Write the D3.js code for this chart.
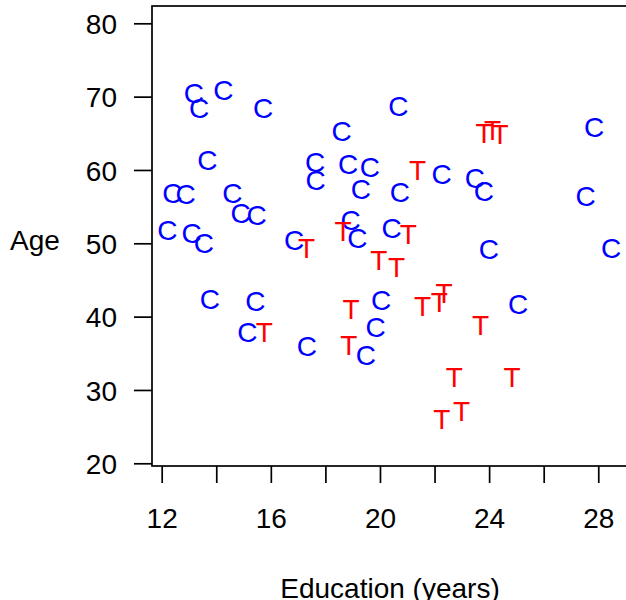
<!DOCTYPE html>
<html>
<head>
<meta charset="utf-8">
<script src="https://cdn.jsdelivr.net/npm/d3@7"></script>
<style>
  html, body { margin: 0; padding: 0; background: #fff; }
  svg { display: block; }
  text { font-family: "Liberation Sans", Arial, Helvetica, sans-serif; }
</style>
</head>
<body>
<script>
// Education (years) and age of each subject, by group
const controlEducation = [13.18, 13.37, 14.26, 15.72, 18.59, 13.67, 17.62, 17.64, 18.83, 19.63,
  19.30, 12.39, 12.88, 14.59, 14.89, 15.48, 12.21, 13.10, 13.55, 16.85,
  18.92, 19.17, 20.67, 27.85, 22.26, 23.48, 23.81, 20.73, 27.54, 20.43,
  23.99, 28.47, 13.77, 15.43, 15.14, 17.32, 20.04, 19.84, 19.48, 25.06];
const controlAge = [70.45, 68.41, 70.95, 68.45, 65.25, 61.32, 61.13, 58.70, 60.75, 60.34,
  57.34, 56.82, 56.72, 56.90, 54.09, 53.86, 51.82, 51.36, 50.00, 50.45,
  53.18, 50.66, 68.78, 65.92, 59.42, 58.91, 57.07, 56.96, 56.41, 52.14,
  49.22, 49.43, 42.47, 42.09, 37.93, 36.04, 42.32, 38.55, 34.77, 41.66];

const treatedEducation = [17.31, 18.65, 23.81, 24.13, 24.40, 21.38, 21.04, 19.96, 20.61, 15.76,
  18.94, 18.86, 21.56, 22.17, 22.35, 23.69, 22.72, 24.84, 22.27, 22.99];
const treatedAge = [49.32, 51.64, 65.02, 65.48, 64.97, 59.96, 51.24, 47.79, 46.77, 37.95,
  41.00, 36.09, 41.41, 42.04, 43.26, 38.82, 31.81, 31.81, 26.11, 27.17];

const groups = [
  { label: "C", color: "#0000ff", xs: controlEducation, ys: controlAge },
  { label: "T", color: "#ff0000", xs: treatedEducation, ys: treatedAge }
];

const xTicks = [12, 14, 16, 18, 20, 22, 24, 26, 28];
const xTickLabels = ["12", "", "16", "", "20", "", "24", "", "28"];
const yTicks = [20, 30, 40, 50, 60, 70, 80];

const xTitle = "Education (years)";
const yTitle = "Age";

const W = 626, H = 600;
const FONT = 28;
const LW = 1.7;

const svg = d3.select("body").append("svg")
  .attr("width", W).attr("height", H);

const box = { left: 152, top: 6, right: 628, bottom: 466 };

const x = d3.scaleLinear().domain([11.645, 29.09]).range([box.left, box.right]);
const y = d3.scaleLinear().domain([19.63, 82.36]).range([box.bottom, box.top]);

// plot frame
svg.append("rect")
  .attr("x", box.left).attr("y", box.top)
  .attr("width", box.right - box.left).attr("height", box.bottom - box.top)
  .attr("fill", "none").attr("stroke", "#000").attr("stroke-width", LW);

// y axis
const yAxis = svg.append("g")
  .attr("transform", `translate(${box.left},0)`)
  .call(d3.axisLeft(y).tickValues(yTicks).tickSizeInner(18).tickSizeOuter(0).tickPadding(17)
    .tickFormat(d3.format("d")));
yAxis.select(".domain").remove();
yAxis.selectAll("line").attr("stroke", "#000").attr("stroke-width", LW);
yAxis.selectAll("text").attr("font-size", FONT).attr("fill", "#000").attr("dy", "0.36em")
  .attr("font-family", "Liberation Sans, Arial, sans-serif");

// x axis
const xAxis = svg.append("g")
  .attr("transform", `translate(0,${box.bottom})`)
  .call(d3.axisBottom(x).tickValues(xTicks).tickSizeInner(17).tickSizeOuter(0).tickPadding(25)
    .tickFormat((d, i) => xTickLabels[i]));
xAxis.select(".domain").remove();
xAxis.selectAll("line").attr("stroke", "#000").attr("stroke-width", LW);
xAxis.selectAll("text").attr("font-size", FONT).attr("fill", "#000")
  .attr("font-family", "Liberation Sans, Arial, sans-serif");

// axis titles
svg.append("text")
  .attr("x", 390).attr("y", 598)
  .attr("text-anchor", "middle").attr("font-size", FONT).attr("fill", "#000")
  .text(xTitle);
svg.append("text")
  .attr("x", 35).attr("y", 250)
  .attr("text-anchor", "middle").attr("font-size", FONT).attr("fill", "#000")
  .text(yTitle);

// letter markers
groups.forEach(g => {
  svg.append("g").selectAll("text")
    .data(g.xs.map((v, i) => [v, g.ys[i]]))
    .join("text")
    .attr("x", d => x(d[0]))
    .attr("y", d => y(d[1]))
    .attr("dy", "0.358em")
    .attr("text-anchor", "middle")
    .attr("font-size", FONT)
    .attr("fill", g.color)
    .text(g.label);
});
</script>
</body>
</html>
